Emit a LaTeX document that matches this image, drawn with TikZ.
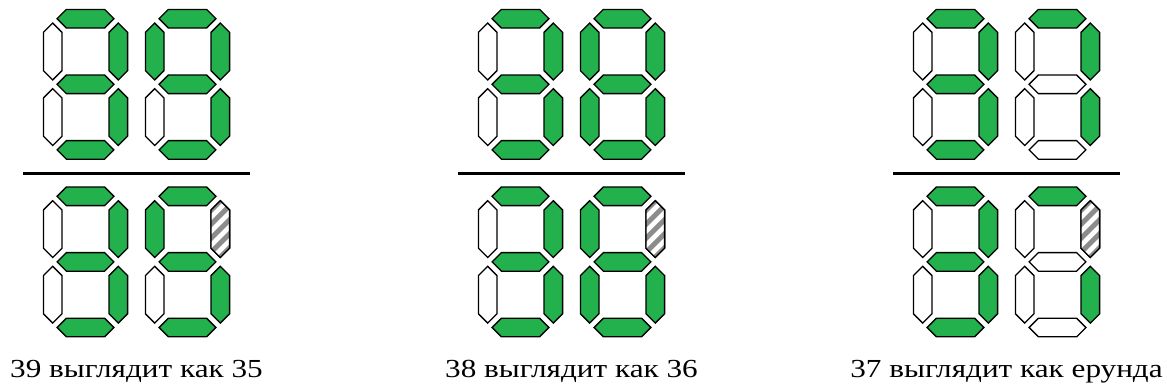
\documentclass[tikz,border=0pt]{standalone}
\usepackage{fontspec}
\setmainfont{Liberation Serif}[FakeStretch=1.2]
\definecolor{segg}{RGB}{34,177,76}
\definecolor{hatchgray}{RGB}{140,140,140}
\tikzset{
  segon/.style={draw=black, fill=segg, line width=1.3pt, line join=miter},
  segoff/.style={draw=black, fill=white, line width=1.3pt, line join=miter},
  segline/.style={draw=black, fill=none, line width=1.3pt, line join=miter},
  divider/.style={draw=black, line width=3.5pt},
  caption/.style={anchor=base, inner sep=0pt, font=\fontsize{26}{30}\selectfont}
}
% horizontal and vertical segment outlines
\newcommand\hexH[2]{(#1-28.4,#2) -- (#1-19.1,#2-9.3) -- (#1+19.1,#2-9.3) -- (#1+28.4,#2) -- (#1+19.1,#2+9.3) -- (#1-19.1,#2+9.3) -- cycle}
\newcommand\hexV[2]{(#1,#2-28.4) -- (#1+9.3,#2-19.1) -- (#1+9.3,#2+19.1) -- (#1,#2+28.4) -- (#1-9.3,#2+19.1) -- (#1-9.3,#2-19.1) -- cycle}
% seven-segment digit: center x, center y, styles a b c d e f g
\newcommand\sevseg[9]{%
  \path[#3] \hexH{#1}{#2-65.6};
  \path[#4] \hexV{#1+32.8}{#2-32.8};
  \path[#5] \hexV{#1+32.8}{#2+32.8};
  \path[#6] \hexH{#1}{#2+65.6};
  \path[#7] \hexV{#1-32.8}{#2+32.8};
  \path[#8] \hexV{#1-32.8}{#2-32.8};
  \path[#9] \hexH{#1}{#2};
}
% hatched upper-right segment of digit centred at (#1,#2)
\newcommand\hatchb[2]{%
  \begin{scope}
    \clip \hexV{#1+32.8}{#2-32.8};
    \fill[white] \hexV{#1+32.8}{#2-32.8};
    \foreach \k in {-4,...,4}
      \draw[hatchgray, line width=5pt] (#1+32.8-20,#2-32.8+\k*14+20) -- (#1+32.8+20,#2-32.8+\k*14-20);
  \end{scope}
  \path[segline] \hexV{#1+32.8}{#2-32.8};
}
\begin{document}
\begin{tikzpicture}[x=1pt, y=-1pt]
\useasboundingbox (0,0) rectangle (1167,391);
\def\rowA{84.3}
\def\rowB{261.9}
% ---------- group 1: 39 -> 35 ----------
\sevseg{85.5}{\rowA}{segon}{segon}{segon}{segon}{segoff}{segoff}{segon}
\sevseg{187.5}{\rowA}{segon}{segon}{segon}{segon}{segoff}{segon}{segon}
\draw[divider] (23,173.5) coordinate (l1a) -- (250,173.5) coordinate (l1b);
\sevseg{85.5}{\rowB}{segon}{segon}{segon}{segon}{segoff}{segoff}{segon}
\sevseg{187.5}{\rowB}{segon}{segoff}{segon}{segon}{segoff}{segon}{segon}
\hatchb{187.5}{\rowB}
\node[caption] (t1) at (136.5,377) {39 выглядит как 35};
% ---------- group 2: 38 -> 36 ----------
\sevseg{520.5}{\rowA}{segon}{segon}{segon}{segon}{segoff}{segoff}{segon}
\sevseg{622.5}{\rowA}{segon}{segon}{segon}{segon}{segon}{segon}{segon}
\draw[divider] (458,173.5) coordinate (l2a) -- (685,173.5) coordinate (l2b);
\sevseg{520.5}{\rowB}{segon}{segon}{segon}{segon}{segoff}{segoff}{segon}
\sevseg{622.5}{\rowB}{segon}{segoff}{segon}{segon}{segon}{segon}{segon}
\hatchb{622.5}{\rowB}
\node[caption] (t2) at (571.5,377) {38 выглядит как 36};
% ---------- group 3: 37 -> nonsense ----------
\sevseg{955.5}{\rowA}{segon}{segon}{segon}{segon}{segoff}{segoff}{segon}
\sevseg{1057.5}{\rowA}{segon}{segon}{segon}{segoff}{segoff}{segoff}{segoff}
\draw[divider] (893,173.5) coordinate (l3a) -- (1120,173.5) coordinate (l3b);
\sevseg{955.5}{\rowB}{segon}{segon}{segon}{segon}{segoff}{segoff}{segon}
\sevseg{1057.5}{\rowB}{segon}{segoff}{segon}{segoff}{segoff}{segoff}{segoff}
\hatchb{1057.5}{\rowB}
\node[caption] (t3) at (1006.5,377) {37 выглядит как ерунда};
\end{tikzpicture}
\end{document}
